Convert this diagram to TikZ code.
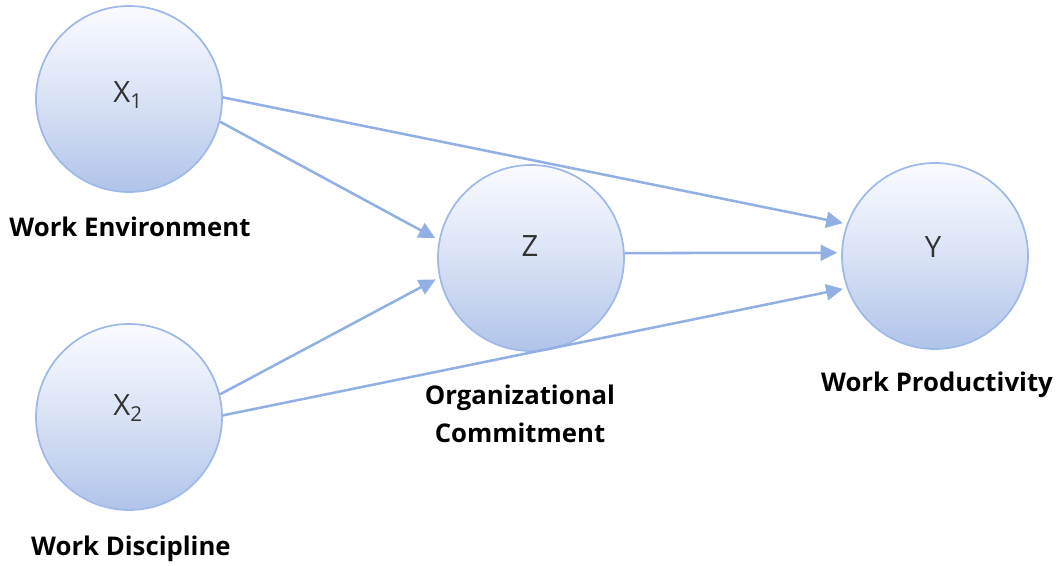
\documentclass[tikz,border=0pt]{standalone}
\usepackage{fontspec}
\setmainfont{Open Sans}
\usetikzlibrary{arrows.meta}
\definecolor{rimblue}{RGB}{160,186,232}
\definecolor{fillbot}{RGB}{176,196,233}
\definecolor{filltop}{RGB}{250,251,255}
\definecolor{linkblue}{RGB}{146,176,228}
\begin{document}
\begin{tikzpicture}[x=0.75pt,y=-0.75pt,
  varnode/.style={circle,minimum size=139.5pt,inner sep=0pt,draw=rimblue,line width=1.3pt,
    top color=filltop,bottom color=fillbot,middle color=fillbot!45!filltop},
  symbol/.style={font=\fontsize{22}{26}\selectfont,text=black!80,inner sep=0pt},
  caption/.style={font=\bfseries\fontsize{19.3}{28.5}\selectfont,align=center,inner sep=0pt},
  link/.style={draw=linkblue,line width=1.9pt,-{Triangle[length=12.5pt,width=12pt]},shorten >=3pt}]
\useasboundingbox (0,0) rectangle (1058,565);
% the four variables
\node[varnode] (x1) at (129,99) {};
\node[varnode] (x2) at (129,417) {};
\node[varnode] (z) at (531,258) {};
\node[varnode] (y) at (935,256) {};
\node[symbol] (x1t) at (128,95) {X\textsubscript{1}};
\node[symbol] (x2t) at (128,408) {X\textsubscript{2}};
\node[symbol] (zt) at (530,246) {Z};
\node[symbol] (yt) at (933,247) {Y};
% captions
\node[caption] (l1) at (130,227) {Work Environment};
\node[caption] (l2) at (131,549) {Work Discipline};
\node[caption] (lz) at (520,414) {Organizational\\Commitment};
\node[caption] (ly) at (937,385) {Work Productivity};
% paths between variables
\draw[link] (x1.1) -- (y.160.5);
\draw[link] (x1.-14) -- (z.169);
\draw[link] (x2.14.5) -- (z.-168);
\draw[link] (x2.1) -- (y.-160);
\draw[link] (z.3) -- (y.178);
\end{tikzpicture}
\end{document}
